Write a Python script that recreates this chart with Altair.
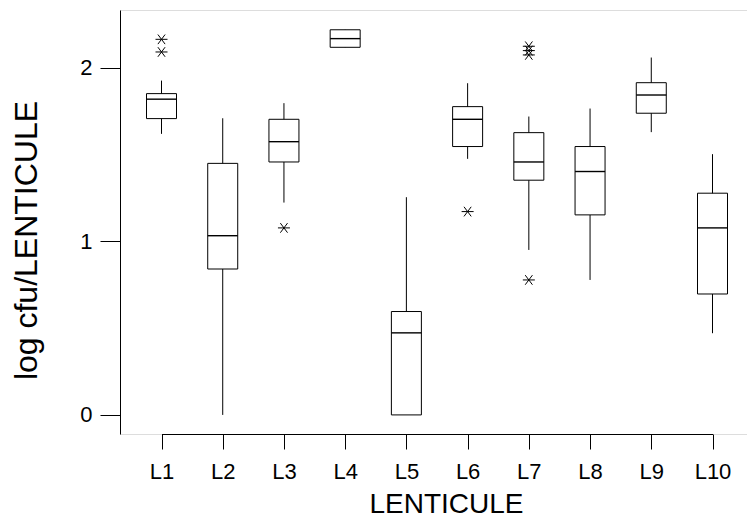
import altair as alt
import pandas as pd

categories = ["L1", "L2", "L3", "L4", "L5", "L6", "L7", "L8", "L9", "L10"]
whisker_low = [1.62, 0.00, 1.224, 2.119, 0.00, 1.476, 0.951, 0.778, 1.63, 0.471]
q1 = [1.708, 0.841, 1.458, 2.119, 0.00, 1.547, 1.353, 1.153, 1.739, 0.697]
median = [1.82, 1.033, 1.575, 2.169, 0.473, 1.704, 1.458, 1.403, 1.844, 1.078]
q3 = [1.852, 1.45, 1.704, 2.22, 0.596, 1.777, 1.627, 1.547, 1.915, 1.278]
whisker_high = [1.927, 1.71, 1.797, 2.22, 1.255, 1.912, 1.72, 1.766, 2.06, 1.503]

outlier_cat = ["L1", "L1", "L3", "L6", "L7", "L7", "L7", "L7"]
outlier_val = [2.165, 2.092, 1.078, 1.172, 2.125, 2.10, 2.075, 0.778]

boxes = pd.DataFrame({
    "cat": categories, "lo": whisker_low, "q1": q1, "med": median,
    "q3": q3, "hi": whisker_high,
})
outs = pd.DataFrame({"cat": outlier_cat, "val": outlier_val})

FONT = "Liberation Sans"

x_enc = alt.X(
    "cat:N", sort=categories,
    scale=alt.Scale(type="point", padding=0, range=[41.5, 592.5]),
    axis=alt.Axis(
        title="LENTICULE", labelAngle=0, tickSize=15, labelFontSize=22,
        labelPadding=12, titleFontSize=28, titleFontWeight="normal",
        titleX=326, titleY=78, titleBaseline="alphabetic", titleAlign="center",
        domainColor="black", tickColor="black", labelColor="black",
        titleColor="black", labelFont=FONT, titleFont=FONT,
    ),
)
y_scale = alt.Scale(domain=[-0.11, 2.334], nice=False, zero=False)
y_axis = alt.Axis(
    title="log cfu/LENTICULE", values=[0, 1, 2], format="d", tickSize=20,
    labelFontSize=22, labelPadding=8, grid=False, titleFontSize=32,
    titleFontWeight="normal", titleX=-94, titleY=230, titleAngle=270,
    titleAlign="center", titleBaseline="middle",
    domainColor="black", tickColor="black", labelColor="black",
    titleColor="black", labelFont=FONT, titleFont=FONT,
)

base = alt.Chart(boxes)

whiskers = base.mark_rule(color="black", strokeWidth=1).encode(
    x=x_enc,
    y=alt.Y("lo:Q", scale=y_scale, axis=y_axis),
    y2="hi:Q",
)
box = base.mark_bar(size=30, fill="white", stroke="black", strokeWidth=1).encode(
    x=x_enc,
    y=alt.Y("q1:Q", scale=y_scale, axis=y_axis),
    y2="q3:Q",
)
med = base.mark_tick(orient="horizontal", size=30, thickness=1.4, color="black",
                     opacity=1).encode(
    x=x_enc,
    y=alt.Y("med:Q", scale=y_scale, axis=y_axis),
)
star = "M-1,0L1,0M-0.6,-0.8L0.6,0.8M-0.6,0.8L0.6,-0.8"
points = alt.Chart(outs).mark_point(
    shape=star, size=144, filled=False, stroke="black", strokeWidth=1, opacity=1
).encode(
    x=x_enc,
    y=alt.Y("val:Q", scale=y_scale, axis=y_axis),
)

chart = alt.layer(whiskers, box, med, points).properties(
    width=627, height=424,
    autosize=alt.AutoSizeParams(type="none"),
    padding={"left": 112, "top": 2, "right": 0, "bottom": 86},
).configure_view(stroke="black", strokeWidth=1).configure(
    background="white"
)

chart.save("out.html", embed_options={"renderer": "svg", "actions": False})
